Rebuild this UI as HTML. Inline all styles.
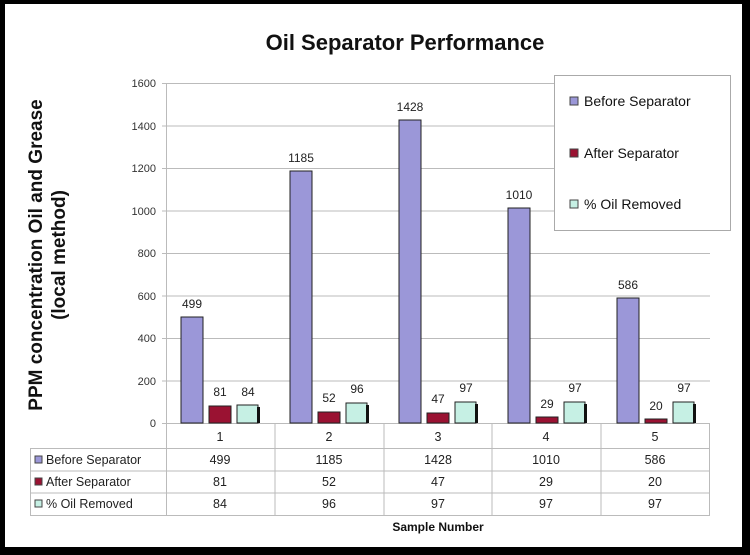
<!DOCTYPE html>
<html><head><meta charset="utf-8"><style>
html,body{margin:0;padding:0;background:#000;}
svg{display:block;font-family:"Liberation Sans",Arial,sans-serif;}
</style></head><body>
<svg width="750" height="555" viewBox="0 0 750 555" xmlns="http://www.w3.org/2000/svg">
<rect x="0" y="0" width="750" height="555" fill="#000"/>
<rect x="5" y="4" width="737" height="543" fill="#fff"/>
<text x="405" y="50" font-size="22" font-weight="bold" text-anchor="middle" fill="#111">Oil Separator Performance</text>
<g transform="translate(42,255) rotate(-90)" font-size="19" font-weight="bold" fill="#111" text-anchor="middle">
<text x="0" y="0">PPM concentration Oil and Grease</text>
<text x="0" y="23">(local method)</text>
</g>
<g stroke="#bbb" stroke-width="1">
<line x1="162" y1="83.5" x2="710" y2="83.5"/>
<line x1="162" y1="126" x2="710" y2="126"/>
<line x1="162" y1="168.5" x2="710" y2="168.5"/>
<line x1="162" y1="211" x2="710" y2="211"/>
<line x1="162" y1="253.5" x2="710" y2="253.5"/>
<line x1="162" y1="296" x2="710" y2="296"/>
<line x1="162" y1="338.5" x2="710" y2="338.5"/>
<line x1="162" y1="381" x2="710" y2="381"/>
<line x1="162" y1="423.5" x2="710" y2="423.5"/>
<line x1="166.5" y1="83" x2="166.5" y2="516"/>
</g>
<g font-size="11" fill="#333" text-anchor="end">
<text x="156" y="87">1600</text><text x="156" y="130">1400</text><text x="156" y="172">1200</text>
<text x="156" y="215">1000</text><text x="156" y="257">800</text><text x="156" y="300">600</text>
<text x="156" y="342">400</text><text x="156" y="385">200</text><text x="156" y="427">0</text>
</g>
<g stroke="#222" stroke-width="1">
<rect x="181" y="317" width="22" height="106" fill="#9b97d8"/>
<rect x="209" y="406" width="22" height="17" fill="#9a1232"/>
<rect x="237" y="405" width="21" height="18" fill="#c6f0e4"/>
<rect x="290" y="171" width="22" height="252" fill="#9b97d8"/>
<rect x="318" y="412" width="22" height="11" fill="#9a1232"/>
<rect x="346" y="403" width="21" height="20" fill="#c6f0e4"/>
<rect x="399" y="120" width="22" height="303" fill="#9b97d8"/>
<rect x="427" y="413" width="22" height="10" fill="#9a1232"/>
<rect x="455" y="402" width="21" height="21" fill="#c6f0e4"/>
<rect x="508" y="208" width="22" height="215" fill="#9b97d8"/>
<rect x="536" y="417" width="22" height="6" fill="#9a1232"/>
<rect x="564" y="402" width="21" height="21" fill="#c6f0e4"/>
<rect x="617" y="298" width="22" height="125" fill="#9b97d8"/>
<rect x="645" y="419" width="22" height="4" fill="#9a1232"/>
<rect x="673" y="402" width="21" height="21" fill="#c6f0e4"/>
</g>
<g fill="#111">
<rect x="257" y="407" width="3" height="16"/><rect x="366" y="405" width="3" height="18"/>
<rect x="475" y="404" width="3" height="19"/><rect x="584" y="404" width="3" height="19"/><rect x="693" y="404" width="3" height="19"/>
</g>
<g font-size="12" fill="#222" text-anchor="middle">
<text x="192" y="308">499</text><text x="220" y="396">81</text><text x="248" y="396">84</text>
<text x="301" y="162">1185</text><text x="329" y="402">52</text><text x="357" y="393">96</text>
<text x="410" y="111">1428</text><text x="438" y="403">47</text><text x="466" y="392">97</text>
<text x="519" y="199">1010</text><text x="547" y="408">29</text><text x="575" y="392">97</text>
<text x="628" y="289">586</text><text x="656" y="410">20</text><text x="684" y="392">97</text>
</g>
<rect x="554.5" y="75.5" width="176" height="155" fill="#fff" stroke="#aaa"/>
<g font-size="14" fill="#111">
<rect x="570" y="97" width="8" height="8" fill="#9b97d8" stroke="#444"/><text x="584" y="106">Before Separator</text>
<rect x="570" y="149" width="8" height="8" fill="#9a1232" stroke="#444"/><text x="584" y="158">After Separator</text>
<rect x="570" y="200" width="8" height="8" fill="#c6f0e4" stroke="#444"/><text x="584" y="209">% Oil Removed</text>
</g>
<g stroke="#bbb" fill="none">
<line x1="166" y1="448.5" x2="710" y2="448.5"/>
<rect x="30.5" y="448.5" width="679" height="67"/>
<line x1="30" y1="471" x2="710" y2="471"/>
<line x1="30" y1="493" x2="710" y2="493"/>
<line x1="275" y1="423" x2="275" y2="516"/><line x1="384" y1="423" x2="384" y2="516"/>
<line x1="492" y1="423" x2="492" y2="516"/><line x1="601" y1="423" x2="601" y2="516"/>
<line x1="709.5" y1="423" x2="709.5" y2="516"/>
</g>
<g font-size="12.5" fill="#222">
<rect x="35" y="456" width="7" height="7" fill="#9b97d8" stroke="#444"/><text x="46" y="464">Before Separator</text>
<rect x="35" y="478" width="7" height="7" fill="#9a1232" stroke="#444"/><text x="46" y="486">After Separator</text>
<rect x="35" y="500" width="7" height="7" fill="#c6f0e4" stroke="#444"/><text x="46" y="508">% Oil Removed</text>
</g>
<g font-size="12.5" fill="#222" text-anchor="middle">
<text x="220" y="441">1</text><text x="329" y="441">2</text><text x="438" y="441">3</text><text x="546" y="441">4</text><text x="655" y="441">5</text>
<text x="220" y="464">499</text><text x="329" y="464">1185</text><text x="438" y="464">1428</text><text x="546" y="464">1010</text><text x="655" y="464">586</text>
<text x="220" y="486">81</text><text x="329" y="486">52</text><text x="438" y="486">47</text><text x="546" y="486">29</text><text x="655" y="486">20</text>
<text x="220" y="508">84</text><text x="329" y="508">96</text><text x="438" y="508">97</text><text x="546" y="508">97</text><text x="655" y="508">97</text>
</g>
<text x="438" y="531" font-size="12" font-weight="bold" text-anchor="middle" fill="#111">Sample Number</text>
</svg>
</body></html>
